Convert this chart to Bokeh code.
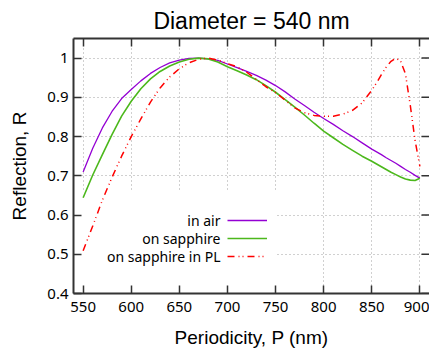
from bokeh.plotting import figure
from bokeh.models import (ColumnDataSource, FixedTicker, LinearAxis, Legend,
                          LegendItem, Label, BoxAnnotation, Range1d)
from bokeh.embed import file_html
from bokeh.resources import INLINE

# ---- data ----
period = [550, 560, 570, 580, 590, 600, 610, 620, 630, 640, 650, 660, 670, 680,
          690, 700, 710, 720, 730, 740, 750, 760, 770, 780, 790, 800, 810, 820,
          830, 840, 850, 855, 860, 865, 870, 875, 880, 885, 890, 895, 900]
r_air = [0.710, 0.770, 0.822, 0.864, 0.897, 0.920, 0.942, 0.961, 0.976, 0.988,
         0.995, 0.999, 1.000, 0.998, 0.994, 0.985, 0.976, 0.966, 0.956, 0.944,
         0.930, 0.914, 0.896, 0.879, 0.862, 0.846, 0.831, 0.815, 0.800, 0.784,
         0.768, 0.761, 0.754, 0.746, 0.739, 0.732, 0.724, 0.716, 0.709, 0.701,
         0.694]
r_sapphire = [0.644, 0.702, 0.754, 0.805, 0.852, 0.890, 0.922, 0.947, 0.966,
              0.980, 0.990, 0.997, 1.000, 0.998, 0.990, 0.978, 0.968, 0.957,
              0.945, 0.930, 0.913, 0.894, 0.875, 0.855, 0.834, 0.814, 0.797,
              0.780, 0.765, 0.750, 0.737, 0.730, 0.723, 0.716, 0.709, 0.703,
              0.697, 0.692, 0.689, 0.688, 0.694]
r_sapphire_pl = [0.509, 0.572, 0.638, 0.696, 0.750, 0.800, 0.845, 0.888, 0.924,
                 0.952, 0.973, 0.988, 0.997, 1.000, 0.995, 0.986, 0.978, 0.964,
                 0.946, 0.927, 0.912, 0.893, 0.873, 0.861, 0.854, 0.852, 0.852,
                 0.857, 0.867, 0.886, 0.918, 0.937, 0.958, 0.977, 0.992, 1.000,
                 0.992, 0.960, 0.880, 0.790, 0.724]

series_names = ["in air", "on sapphire", "on sapphire in PL"]
x_ticks = [550, 600, 650, 700, 750, 800, 850, 900]
y_ticks = [0.4, 0.5, 0.6, 0.7, 0.8, 0.9, 1.0]
y_tick_labels = ["0.4", "0.5", "0.6", "0.7", "0.8", "0.9", "1"]

title_text = "Diameter = 540 nm"
x_label = "Periodicity, P (nm)"
y_label = "Reflection, R"

X0, X1 = 540, 910
Y0, Y1 = 0.4, 1.05
FRAME_W = 356
TICK_LEN = 8

src = ColumnDataSource(dict(period=period, air=r_air, sap=r_sapphire,
                            pl=r_sapphire_pl))

p = figure(width=429, height=350, x_range=Range1d(X0, X1),
           y_range=Range1d(Y0, Y1), output_backend="svg",
           toolbar_location=None, min_border_left=73, min_border_right=0,
           min_border_top=36, min_border_bottom=57, title=title_text)
p.outline_line_color = None
p.background_fill_color = "white"
p.border_fill_color = "white"

p.title.text_font = "Liberation Sans"
p.title.text_font_size = "23px"
p.title.text_font_style = "normal"
p.title.align = "center"
p.title.text_color = "black"

AX = "#333333"
TF = "Noto Sans"

xa = p.xaxis[0]
xa.ticker = FixedTicker(ticks=x_ticks)
ya = p.yaxis[0]
ya.ticker = FixedTicker(ticks=y_ticks)
ya.major_label_overrides = {t: l for t, l in zip(y_ticks, y_tick_labels)}
xa.axis_label = x_label
ya.axis_label = y_label
for ax in (xa, ya):
    ax.axis_line_color = AX
    ax.axis_line_width = 2
    ax.major_tick_in = TICK_LEN
    ax.major_tick_out = 0
    ax.major_tick_line_color = AX
    ax.major_tick_line_width = 1.5
    ax.minor_tick_line_color = None
    ax.major_label_text_font = TF
    ax.major_label_text_font_size = "15px"
    ax.major_label_text_color = "black"
    ax.axis_label_text_font = "Liberation Sans"
    ax.axis_label_text_font_size = "19px"
    ax.axis_label_text_font_style = "normal"
    ax.axis_label_text_color = "black"
xa.major_label_standoff = 8
xa.axis_label_standoff = 12
ya.major_label_standoff = 5
ya.axis_label_standoff = 14

# mirrored ticks on top (gnuplot style)
top = LinearAxis(ticker=FixedTicker(ticks=x_ticks),
                 major_label_overrides={t: "" for t in x_ticks})
top.major_tick_in = TICK_LEN
top.major_tick_out = 0
top.major_label_standoff = 0
top.axis_label_standoff = 0
top.major_label_text_font_size = "0px"
top.major_tick_line_color = AX
top.major_tick_line_width = 1.5
top.minor_tick_line_color = None
top.axis_line_color = AX
top.axis_line_width = 2
p.add_layout(top, "above")

# mirrored ticks on the right edge (frame edge lies at the window border)
tick_dx = TICK_LEN * (X1 - X0) / FRAME_W
p.segment(x0=[X1] * len(y_ticks), x1=[X1 - tick_dx] * len(y_ticks),
          y0=y_ticks, y1=y_ticks, line_color=AX, line_width=1.5)

for g, t in ((p.xgrid[0], x_ticks), (p.ygrid[0], y_ticks)):
    g.ticker = FixedTicker(ticks=t)
    g.grid_line_color = "#a0a0a0"
    g.grid_line_dash = "1 3"
    g.grid_line_width = 1
    g.level = "image"

# opaque key box hiding the grid
key_box = BoxAnnotation(left=X0, right=751, bottom=Y0, top=0.661,
                        fill_color="white", fill_alpha=1.0, line_color=None,
                        level="underlay")
p.add_layout(key_box)

r1 = p.line("period", "air", source=src, line_color="#9400D3", line_width=1.3)
r2 = p.line("period", "sap", source=src, line_color="#4cb81c", line_width=1.6)
r3 = p.line("period", "pl", source=src, line_color="#ff0000", line_width=1.5,
            line_dash="7 4 1 3 1 4")

legend = Legend(items=[LegendItem(label=" ", renderers=[r]) for r in (r1, r2, r3)],
                location=(154, 28), glyph_width=40, glyph_height=18,
                label_height=18, label_width=0, label_standoff=0, spacing=0,
                padding=0, margin=0, border_line_color=None,
                background_fill_alpha=0, label_text_font_size="1px")
p.add_layout(legend)

for name, vy in zip(series_names, (73, 55.3, 37)):
    p.add_layout(Label(x=147, y=vy, x_units="screen", y_units="screen",
                       text=name, text_align="right", text_baseline="middle",
                       text_font=TF, text_font_size="14px",
                       text_color="black"))

open("out.html", "w").write(file_html(p, INLINE))
